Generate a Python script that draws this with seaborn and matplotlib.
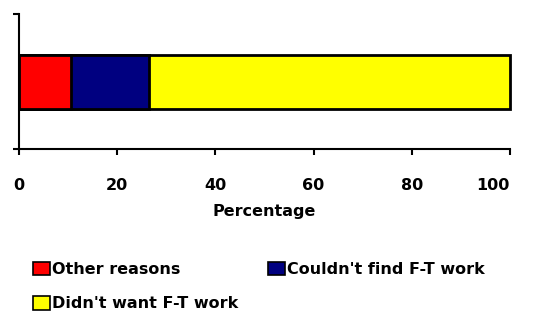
import matplotlib
matplotlib.use("Agg")
import matplotlib.pyplot as plt
import seaborn as sns
import pandas as pd
import numpy as np
from matplotlib.patches import Patch

categories = ["Other reasons", "Couldn't find F-T work", "Didn't want F-T work"]
values = [10.5, 16.0, 73.5]
colors = ["#FF0000", "#000080", "#FFFF00"]
xticks = [0, 20, 40, 60, 80, 100]

sns.set_theme(style="white")
plt.rcParams['font.family'] = ['DejaVu Sans']
plt.rcParams['text.color'] = 'black'
plt.rcParams['xtick.color'] = 'black'
plt.rcParams['ytick.color'] = 'black'
plt.rcParams['axes.labelcolor'] = 'black'

fig = plt.figure(figsize=(5.37, 3.18), dpi=100)
ax = fig.add_axes([0.0354, 0.531, 0.9143, 0.425])

cum = np.cumsum(values)
# draw largest cumulative first so smaller segments sit on top
for i in reversed(range(len(categories))):
    df = pd.DataFrame({"y": ["all"], "x": [cum[i]]})
    sns.barplot(data=df, x="x", y="y", orient="h", color=colors[i],
                edgecolor="black", linewidth=2, width=0.4, ax=ax, saturation=1)
for p in ax.patches:
    p.set_clip_on(False)

ax.set_xlim(0, 100)
ax.set_ylim(0.5, -0.5)
ax.set_yticks([-0.5, 0.5])
ax.set_yticklabels(["", ""])
ax.set_xticks(xticks)
labels = ax.set_xticklabels([str(t) for t in xticks], fontsize=11.5, fontweight="bold")
labels[-1].set_horizontalalignment("right")
labels[-1].set_x(100)
ax.set_xlabel("Percentage", fontsize=11.5, fontweight="bold", labelpad=8)
ax.set_ylabel("")
for s in ["top", "right"]:
    ax.spines[s].set_visible(False)
for s in ["left", "bottom"]:
    ax.spines[s].set_color("black")
    ax.spines[s].set_linewidth(1.5)
ax.tick_params(axis="x", bottom=True, direction="out", length=4, width=1.5, color="black", pad=17)
ax.tick_params(axis="y", left=True, direction="out", length=4, width=1.5, color="black")

handles = [Patch(facecolor=colors[0], edgecolor="black", linewidth=1.2, label=categories[0]),
           Patch(facecolor=colors[2], edgecolor="black", linewidth=1.2, label=categories[2]),
           Patch(facecolor=colors[1], edgecolor="black", linewidth=1.2, label=categories[1])]
fig.legend(handles=handles, ncol=2, loc="upper left", bbox_to_anchor=(0.061, 0.176),
           frameon=False, prop={"size": 11.5, "weight": "bold"},
           handlelength=1.1, handleheight=0.9, handletextpad=0.1,
           columnspacing=1.85, labelspacing=1.2, borderaxespad=0, borderpad=0)

fig.savefig("out.png", dpi=100)
